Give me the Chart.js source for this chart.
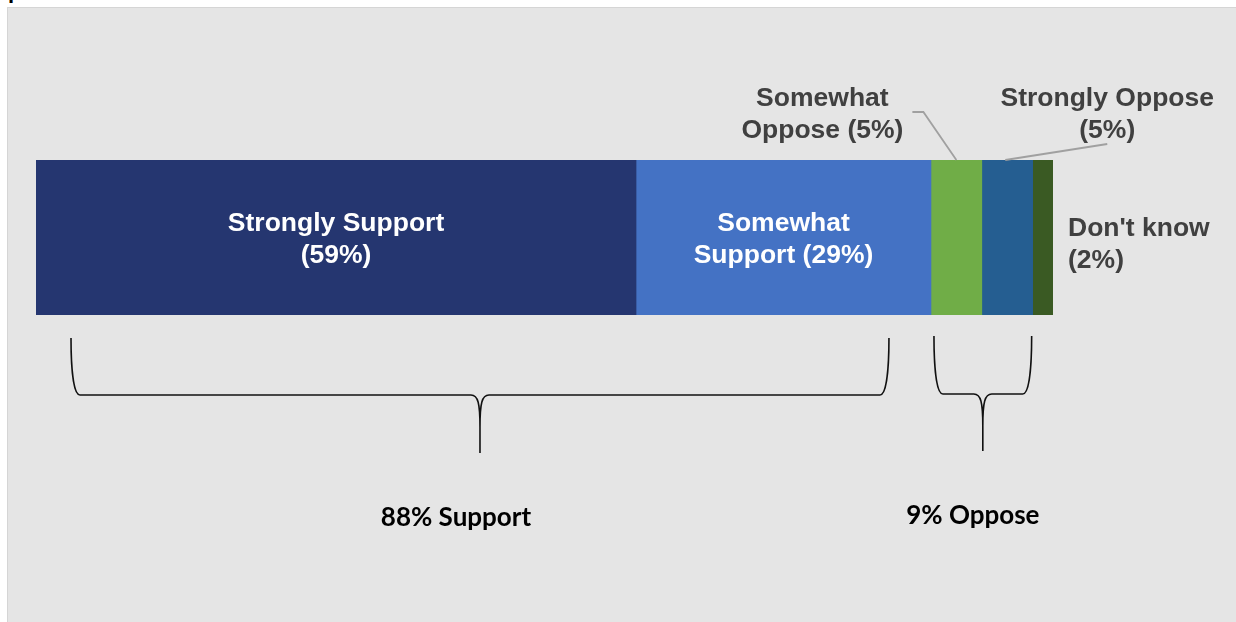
<!DOCTYPE html>
<html>
<head>
<meta charset="utf-8">
<title>Support and opposition</title>
<script src="https://cdn.jsdelivr.net/npm/chart.js@4.4.1/dist/chart.umd.min.js"></script>
<style>
  html, body { margin: 0; padding: 0; background: #ffffff; }
  body { width: 1236px; height: 622px; overflow: hidden; position: relative; }
  #heading {
    position: absolute; left: 8px; top: -22px;
    font: bold 22px "Liberation Sans", Arial, sans-serif; color: #000;
  }
  #panel {
    position: absolute; left: 7px; top: 7px; width: 1240px; height: 630px;
    background: #e5e5e5; border: 1px solid #d5d5d5; box-sizing: border-box;
  }
  #wrap { position: absolute; left: 0; top: 0; width: 1236px; height: 622px; }
</style>
</head>
<body>
<div id="heading">protections</div>
<div id="panel"></div>
<div id="wrap"><canvas id="stackChart"></canvas></div>

<script>
// answer categories and their shares (%)
const categories = ['Strongly Support', 'Somewhat Support', 'Somewhat Oppose', 'Strongly Oppose', "Don't know"];
const shares = [59, 29, 5, 5, 2];
const segmentColors = ['#253670', '#4472c4', '#70ad47', '#255e91', '#3a5a23'];

// bracketed groups: first/last segment index and the summary text
const groupFirst = [0, 2];
const groupLast = [1, 3];
const groupLabels = ['88% Support', '9% Oppose'];

// where each segment's label goes
const labelPlacement = [
  { mode: 'inside', lines: ['Strongly Support', '(59%)'] },
  { mode: 'inside', lines: ['Somewhat', 'Support (29%)'] },
  { mode: 'above', lines: ['Somewhat', 'Oppose (5%)'], dx: -134, dy: -61,
    leader: [[-44, -48], [-33, -48], [0, 0]] },
  { mode: 'above', lines: ['Strongly Oppose', '(5%)'], dx: 100, dy: -61,
    leader: [[100, -16], [-2, 0]] },
  { mode: 'right', lines: ["Don't know", '(2%)'], dx: 15, dy: -9 }
];

// bracket geometry (px): side insets, arm top, bar of brace, tip, label offsets
const bracketStyle = [
  { insetL: 35, insetR: 42, top: 338, mid: 395, tip: 453, textDx: -24, textY: 518 },
  { insetL: 3, insetR: 1, top: 336, mid: 394, tip: 451, textDx: -10, textY: 516 }
];

const LINE_GAP = 32;

const segmentLabels = {
  id: 'segmentLabels',
  afterDatasetsDraw(chart) {
    const ctx = chart.ctx;
    ctx.save();
    ctx.font = 'bold 26.5px "Liberation Sans", Arial, sans-serif';
    ctx.textBaseline = 'middle';
    labelPlacement.forEach((p, i) => {
      const bar = chart.getDatasetMeta(i).data[0];
      const left = Math.min(bar.x, bar.base), right = Math.max(bar.x, bar.base);
      const cx = (left + right) / 2;
      const top = bar.y - bar.height / 2;
      if (p.mode === 'inside') {
        ctx.fillStyle = '#ffffff';
        ctx.textAlign = 'center';
        p.lines.forEach((t, k) => ctx.fillText(t, cx, bar.y - 14 + k * LINE_GAP));
      } else if (p.mode === 'above') {
        if (p.leader) {
          ctx.strokeStyle = '#a0a0a0';
          ctx.lineWidth = 1.8;
          ctx.beginPath();
          p.leader.forEach(([lx, ly], k) => {
            if (k === 0) ctx.moveTo(cx + lx, top + ly);
            else ctx.lineTo(cx + lx, top + ly);
          });
          ctx.stroke();
        }
        ctx.fillStyle = '#404040';
        ctx.textAlign = 'center';
        p.lines.forEach((t, k) => ctx.fillText(t, cx + p.dx, top + p.dy + k * LINE_GAP));
      } else {
        ctx.fillStyle = '#404040';
        ctx.textAlign = 'left';
        p.lines.forEach((t, k) => ctx.fillText(t, right + p.dx, bar.y + p.dy + k * LINE_GAP));
      }
    });
    ctx.restore();
  }
};

// curly braces under the bar with the group totals
const braces = {
  id: 'braces',
  afterDraw(chart) {
    const ctx = chart.ctx;
    ctx.save();
    ctx.strokeStyle = '#111111';
    ctx.lineWidth = 1.6;
    groupLabels.forEach((label, g) => {
      const s = bracketStyle[g];
      const first = chart.getDatasetMeta(groupFirst[g]).data[0];
      const last = chart.getDatasetMeta(groupLast[g]).data[0];
      const x0 = Math.min(first.base, first.x) + s.insetL;
      const x1 = Math.max(last.base, last.x) - s.insetR;
      const xm = (x0 + x1) / 2;
      const r = 9;
      ctx.beginPath();
      ctx.moveTo(x0, s.top);
      ctx.bezierCurveTo(x0, s.mid - 30, x0 + 2, s.mid, x0 + r, s.mid);
      ctx.lineTo(xm - r, s.mid);
      ctx.bezierCurveTo(xm - 2, s.mid, xm, s.mid + 8, xm, s.mid + 32);
      ctx.lineTo(xm, s.tip);
      ctx.moveTo(x1, s.top);
      ctx.bezierCurveTo(x1, s.mid - 30, x1 - 2, s.mid, x1 - r, s.mid);
      ctx.lineTo(xm + r, s.mid);
      ctx.bezierCurveTo(xm + 2, s.mid, xm, s.mid + 8, xm, s.mid + 32);
      ctx.stroke();

      ctx.fillStyle = '#000000';
      ctx.font = 'bold 26px Lato, "Open Sans", sans-serif';
      ctx.textAlign = 'center';
      ctx.textBaseline = 'middle';
      ctx.fillText(label, xm + s.textDx, s.textY);
    });
    ctx.restore();
  }
};

const ctx = document.getElementById('stackChart').getContext('2d');
const stackChart = new Chart(ctx, {
  type: 'bar',
  data: {
    labels: [''],
    datasets: categories.map((name, i) => ({
      label: name,
      data: [shares[i]],
      backgroundColor: segmentColors[i],
      borderWidth: 0,
      barPercentage: 1,
      categoryPercentage: 1
    }))
  },
  options: {
    indexAxis: 'y',
    responsive: true,
    maintainAspectRatio: false,
    animation: false,
    layout: { padding: { left: 36, right: 183, top: 160, bottom: 307 } },
    scales: {
      x: { stacked: true, min: 0, max: 100, display: false },
      y: { stacked: true, display: false }
    },
    plugins: {
      legend: { display: false },
      tooltip: { enabled: false }
    }
  },
  plugins: [segmentLabels, braces]
});
</script>
</body>
</html>
